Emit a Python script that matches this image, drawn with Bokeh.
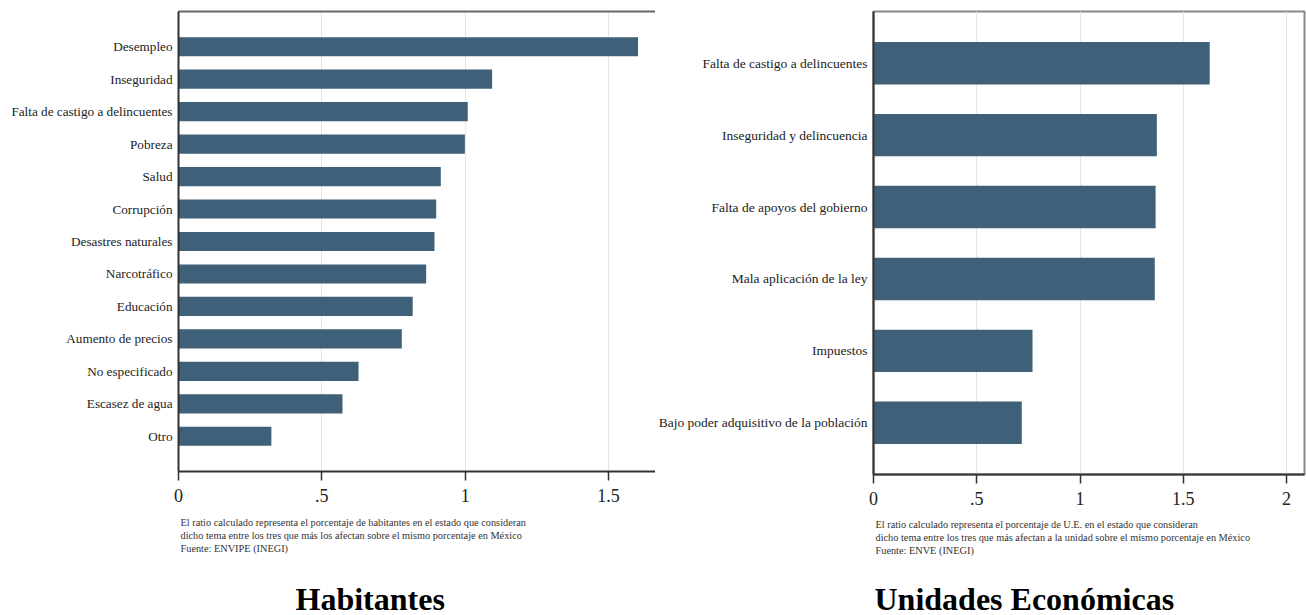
from bokeh.plotting import figure
from bokeh.models import FactorRange, Range1d, FixedTicker, LinearAxis, Title, CustomJSTickFormatter
from bokeh.layouts import row
from bokeh.embed import file_html
from bokeh.resources import INLINE

# ---------------- data ----------------
hab_cats = ["Desempleo", "Inseguridad", "Falta de castigo a delincuentes", "Pobreza",
            "Salud", "Corrupción", "Desastres naturales", "Narcotráfico", "Educación",
            "Aumento de precios", "No especificado", "Escasez de agua", "Otro"]
hab_vals = [1.603, 1.094, 1.009, 0.999, 0.915, 0.899, 0.893, 0.864, 0.817,
            0.779, 0.628, 0.572, 0.324]

ue_cats = ["Falta de castigo a delincuentes", "Inseguridad y delincuencia",
           "Falta de apoyos del gobierno", "Mala aplicación de la ley",
           "Impuestos", "Bajo poder adquisitivo de la población"]
ue_vals = [1.628, 1.372, 1.366, 1.362, 0.770, 0.718]

hab_ticks = [0, 0.5, 1, 1.5]
ue_ticks = [0, 0.5, 1, 1.5, 2]

hab_notes = ["El ratio calculado representa el porcentaje de habitantes en el estado que consideran",
             "dicho tema entre los tres que más los afectan sobre el mismo porcentaje en México",
             "Fuente: ENVIPE (INEGI)"]
ue_notes = ["El ratio calculado representa el porcentaje de U.E. en el estado que consideran",
            "dicho tema entre los tres que más afectan a la unidad sobre el mismo porcentaje en México",
            "Fuente: ENVE (INEGI)"]

hab_title = "Habitantes"
ue_title = "Unidades Económicas"

SERIF = "Liberation Serif"
BAR = "#3e6078"
fmt = CustomJSTickFormatter(code="const s = String(tick); return s.startsWith('0.') ? s.slice(1) : s;")


def spacer(h):
    return Title(text=" ", text_font_size="1px", standoff=h, text_color="white")


def make(cats, vals, ticks, xmax, fw, fh, ml, mr, mt, pad, lab_size, notes, title,
         title_off, gap1, gap2, open_right):
    p = figure(y_range=FactorRange(factors=list(reversed(cats)), range_padding=pad),
               x_range=Range1d(0, xmax), frame_width=fw, frame_height=fh,
               min_border_left=ml, min_border_right=mr, min_border_top=mt, min_border_bottom=0,
               output_backend="svg", toolbar_location=None)
    p.title.visible = False
    p.hbar(y=cats, right=vals, left=0, height=0.59, fill_color=BAR, line_color=None)
    p.background_fill_color = "white"
    p.border_fill_color = "white"

    p.xgrid.ticker = FixedTicker(ticks=ticks[1:])
    p.xgrid.grid_line_color = "#e4e4e4"
    p.xgrid.grid_line_width = 1
    p.ygrid.grid_line_color = None

    xa = p.xaxis[0]
    xa.ticker = FixedTicker(ticks=ticks)
    xa.formatter = fmt
    xa.axis_line_color = "#333333"
    xa.axis_line_width = 2
    xa.major_tick_out = 9
    xa.major_tick_in = 0
    xa.major_tick_line_color = "#333333"
    xa.major_tick_line_width = 1.5
    xa.minor_tick_line_color = None
    xa.major_label_text_font = SERIF
    xa.major_label_text_font_size = "18px"
    xa.major_label_text_color = "#222222"
    xa.major_label_standoff = 8

    ya = p.yaxis[0]
    ya.axis_line_color = "#333333"
    ya.axis_line_width = 2
    ya.major_tick_out = 0
    ya.major_tick_in = 0
    ya.minor_tick_line_color = None
    ya.major_label_text_font = SERIF
    ya.major_label_text_font_size = lab_size
    ya.major_label_text_color = "#222222"
    ya.major_label_standoff = 6

    if open_right:
        p.outline_line_color = None
        top = LinearAxis(ticker=FixedTicker(ticks=[]), axis_line_color="#666666",
                         axis_line_width=2, major_tick_out=0, major_tick_in=0,
                         minor_tick_line_color=None)
        p.add_layout(top, "above")
    else:
        p.outline_line_color = "#888888"
        p.outline_line_width = 2
        p.outline_line_alpha = 1

    p.add_layout(spacer(gap1), "below")
    for line in notes:
        t = Title(text=line, align="left", text_font=SERIF, text_font_size="10.3px",
                  text_font_style="normal", text_color="#333333", standoff=0, offset=2,
                  text_line_height=0.9)
        p.add_layout(t, "below")
    p.add_layout(spacer(gap2), "below")
    tt = Title(text=title, align="left", text_font=SERIF, text_font_size="32px",
               text_font_style="bold", text_color="#000000", standoff=0, offset=title_off)
    p.add_layout(tt, "below")
    return p


p1 = make(hab_cats, hab_vals, hab_ticks, 1.664, 477, 460, 178, 0, 10, 0.09, "13.2px",
          hab_notes, hab_title, 117, 7, 22, True)
p2 = make(ue_cats, ue_vals, ue_ticks, 2.087, 431, 463, 216, 2, 11, 0.073, "13.5px",
          ue_notes, ue_title, 1, 6, 20, False)

layout = row(p1, p2, spacing=0)
open("out.html", "w").write(file_html(layout, INLINE))
